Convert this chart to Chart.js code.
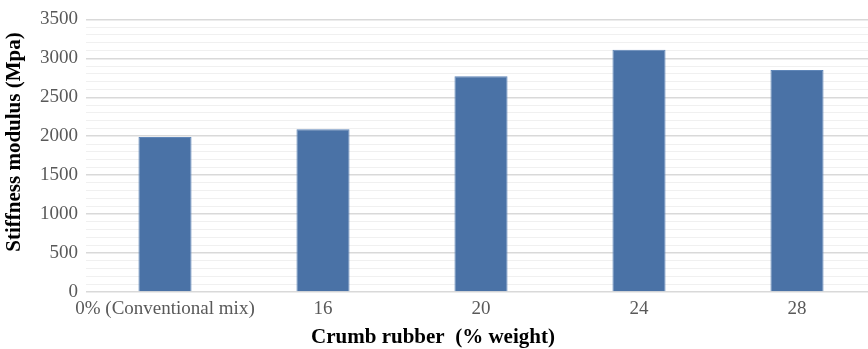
<!DOCTYPE html>
<html>
<head>
<meta charset="utf-8">
<script src="https://cdn.jsdelivr.net/npm/chart.js@4/dist/chart.umd.min.js"></script>
<style>
  html, body { margin: 0; padding: 0; background: #ffffff; overflow: hidden; }
  #wrap { position: relative; width: 876px; height: 349px; }
</style>
</head>
<body>
<div id="wrap"><canvas id="chart"></canvas></div>
<script>
// Crumb rubber content vs. stiffness modulus
const categories = ['0% (Conventional mix)', '16', '20', '24', '28'];
const stiffness = [1990, 2090, 2770, 3110, 2850];
const yMax = 3500;
const majorStep = 500;
const minorStep = 100;
const xTitle = 'Crumb rubber  (% weight)';
const yTitle = 'Stiffness modulus (Mpa)';

const serif = '"Liberation Serif", "Times New Roman", serif';

// Axis titles placed relative to the page rather than the scale boxes
const axisTitles = {
  id: 'axisTitles',
  afterDraw(chart) {
    const ctx = chart.ctx;
    ctx.save();
    ctx.fillStyle = '#000000';
    ctx.font = 'bold 21px ' + serif;
    ctx.textAlign = 'center';
    ctx.textBaseline = 'middle';
    ctx.fillText(xTitle, 433, 338);
    ctx.translate(15, 142);
    ctx.rotate(-Math.PI / 2);
    ctx.fillText(yTitle, 0, 0);
    ctx.restore();
  }
};

new Chart(document.getElementById('chart'), {
  type: 'bar',
  data: {
    labels: categories,
    datasets: [{
      label: 'Stiffness modulus',
      data: stiffness,
      backgroundColor: '#4a72a6',
      borderColor: '#5f86b8',
      borderWidth: 1,
      barPercentage: 0.336,
      categoryPercentage: 1.0
    }]
  },
  plugins: [axisTitles],
  options: {
    responsive: true,
    maintainAspectRatio: false,
    animation: false,
    devicePixelRatio: 1,
    layout: { padding: { top: 18, right: 0, bottom: 0, left: 0 } },
    plugins: {
      legend: { display: false },
      tooltip: { enabled: false }
    },
    scales: {
      x: {
        grid: { display: false },
        border: { display: false },
        ticks: {
          color: '#595959',
          font: { family: serif, size: 19 },
          padding: -2,
          maxRotation: 0,
          autoSkip: false
        },
        afterFit: (scale) => { scale.height = 57; }
      },
      y: {
        min: 0,
        max: yMax,
        border: { display: false },
        grid: {
          drawTicks: false,
          color: (ctx) => (ctx.tick && ctx.tick.value % majorStep === 0) ? '#d9d9d9' : '#f0f0f0',
          lineWidth: (ctx) => (ctx.tick && ctx.tick.value % majorStep === 0) ? 1.5 : 1
        },
        ticks: {
          stepSize: minorStep,
          autoSkip: false,
          color: '#595959',
          font: { family: serif, size: 19 },
          padding: 8,
          callback: (v) => (v % majorStep === 0 ? String(v) : '')
        },
        afterFit: (scale) => { scale.width = 86; }
      }
    }
  }
});
</script>
</body>
</html>
